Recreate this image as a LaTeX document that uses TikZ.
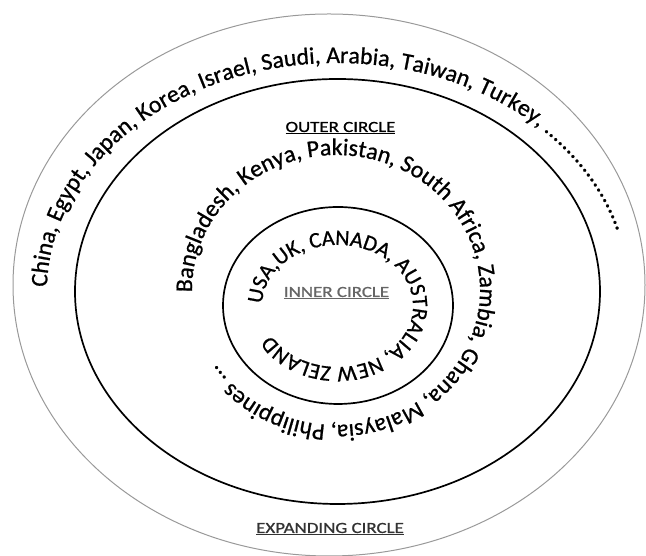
\documentclass[tikz,border=0pt]{standalone}
\usepackage{graphicx}
\usepackage{fontspec}
\setmainfont{Carlito}
\newfontfamily\ringfamily[FakeBold=0.8]{Carlito}
\usetikzlibrary{decorations.text}

\newcommand{\ringtext}{\ringfamily\fontsize{23.8}{26}\selectfont}
\newcommand{\middletext}{\ringfamily\fontsize{23.9}{26}\selectfont}
\newcommand{\innertext}{\ringfamily\fontsize{22}{25}\selectfont}
\newcommand{\lbltext}[1]{\scalebox{1.22}[1]{\ringfamily\fontsize{15.5}{17}\selectfont\underline{#1}}}

\begin{document}
\begin{tikzpicture}
  [x=1pt,y=1pt,every node/.style={inner sep=0pt},
   ring/.style={line width=1.7pt},
   curved/.style={decorate,decoration={text along path,text={#1}}}]
  \useasboundingbox (0,0) rectangle (646,556);
  % the three circles
  \draw[black!40,line width=1pt] (329,271) ellipse [x radius=316,y radius=271];
  \draw[ring] (337.5,264.5) ellipse [x radius=262.5,y radius=212.5];
  \draw[ring] (338,250.5) ellipse [x radius=115,y radius=98.5];
  % countries written round each circle
  \path[shift={(337,265)},curved={|\ringtext|China, Egypt, Japan, Korea, Israel, Saudi, Arabia, Taiwan, Turkey, .....................}]
    (179:290 and 228) arc [start angle=179,end angle=5,x radius=290,y radius=228];
  \path[shift={(336,266)},curved={|\middletext|Bangladesh, Kenya, Pakistan,  South Africa, Zambia, Ghana, Malaysia, Philippines ...}]
    (181:144 and 135) arc [start angle=181,end angle=-150,x radius=144,y radius=135];
  \path[shift={(337.5,250)},curved={|\innertext|USA,UK, CANADA, AUSTRALIA, NEW ZELAND}]
    (178:75.5 and 61) arc [start angle=178,end angle=-165,x radius=75.5,y radius=61];
  % circle names
  \node (outer) at (340.5,428) {\lbltext{OUTER CIRCLE}};
  \node[text=black!60] (inner) at (336.5,263) {\lbltext{INNER CIRCLE}};
  \node[text=black!80] (expanding) at (330,27) {\lbltext{EXPANDING CIRCLE}};
\end{tikzpicture}
\end{document}
